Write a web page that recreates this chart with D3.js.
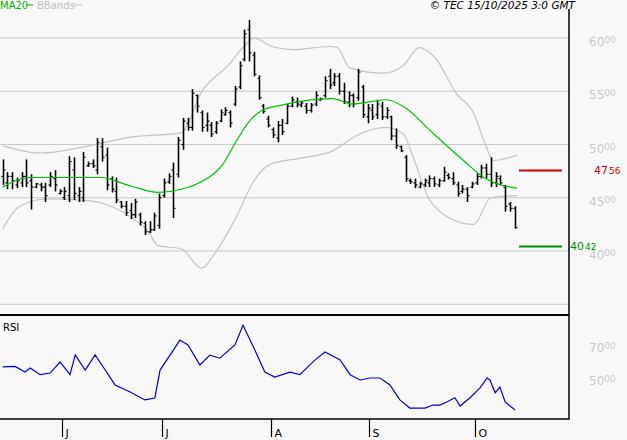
<!DOCTYPE html>
<html>
<head>
<meta charset="utf-8">
<script src="https://cdn.jsdelivr.net/npm/d3@7"></script>
<style>
  body { margin: 0; background: #f8f8f8; }
  svg { font-family: "DejaVu Sans", sans-serif; }
</style>
</head>
<body>
<svg id="chart"></svg>
<script>
// [high, low, open, close]
const bars = [
  [48.6,46.2,47.0,47.6],[47.4,45.8,46.4,47.0],[47.4,45.8,47.0,46.6],[46.9,45.9,46.2,46.6],[47.4,46.0,46.4,47.0],
  [48.6,46.0,47.0,46.4],[47.2,43.9,46.6,46.0],[46.4,45.9,46.0,46.3],[46.4,45.6,46.2,46.0],[46.4,44.6,46.0,45.2],
  [47.4,46.0,46.2,47.0],[47.6,45.6,46.8,46.2],[45.8,45.3,45.4,45.6],[46.0,44.8,45.0,45.6],[48.9,44.6,45.2,48.4],
  [48.8,44.8,47.6,45.4],[46.0,44.6,45.2,45.6],[49.3,44.6,45.0,48.8],[48.4,47.9,48.0,48.2],[48.6,47.8,48.2,48.0],
  [50.6,47.2,47.6,50.2],[50.6,48.4,49.8,48.8],[49.7,45.7,49.0,46.2],[47.0,45.5,46.8,45.8],[46.9,44.5,45.6,44.8],
  [44.7,44.0,44.6,44.2],[44.7,43.3,44.2,43.6],[44.5,43.0,43.8,43.4],[44.9,43.1,43.4,44.6],[43.6,42.4,43.4,42.7],
  [42.8,41.5,42.6,41.8],[42.8,41.7,41.8,42.0],[43.6,41.9,42.0,43.3],[45.4,42.1,42.4,45.0],[46.8,45.0,45.2,46.4],
  [47.3,46.3,46.5,47.0],[48.3,43.1,47.6,44.0],[50.7,46.9,47.2,50.4],[52.5,49.5,50.0,52.2],[52.5,51.3,52.0,51.6],
  [55.2,51.3,51.6,54.8],[54.7,53.0,54.6,53.6],[53.2,51.2,53.0,51.6],[53.0,51.2,51.8,52.2],[52.1,50.7,51.8,51.0],
  [52.2,51.0,51.2,52.0],[53.3,52.1,52.2,53.0],[53.5,52.7,52.8,53.2],[53.2,51.6,53.0,52.0],[55.5,53.6,53.8,55.2],
  [57.8,55.2,55.4,57.4],[60.8,57.8,58.0,60.4],[61.7,57.8,60.8,58.6],[58.7,56.4,58.4,56.6],[56.5,54.2,56.2,54.4],
  [53.8,52.9,53.6,53.1],[52.7,51.6,52.4,51.8],[51.6,50.6,51.4,50.9],[52.2,50.2,50.6,51.8],[52.4,50.9,51.8,51.2],
  [53.8,51.9,52.0,53.6],[54.5,53.5,53.6,54.2],[54.4,53.5,54.0,53.8],[54.1,53.5,53.7,53.9],[53.9,52.9,53.6,53.2],
  [53.9,53.0,53.2,53.7],[55.0,53.6,53.8,54.6],[54.4,54.1,54.2,54.3],[56.4,54.4,54.6,56.0],[57.1,55.2,56.4,55.6],
  [56.7,55.5,55.8,56.4],[56.7,54.7,56.4,55.0],[55.8,53.8,55.0,54.0],[55.0,53.5,54.0,54.6],[54.8,53.5,54.6,53.8],
  [57.1,54.1,54.4,56.8],[55.6,52.5,55.4,52.8],[53.8,52.0,52.6,53.4],[53.8,52.3,53.2,52.6],[54.2,52.4,52.8,53.8],
  [54.0,52.3,53.6,52.6],[53.5,52.4,52.6,53.2],[52.7,50.4,52.6,50.8],[51.5,49.6,50.8,49.9],[49.9,49.3,49.8,49.4],
  [49.0,46.5,48.8,46.8],[46.8,46.3,46.6,46.5],[46.8,45.9,46.4,46.2],[46.5,45.9,46.0,46.3],[46.8,46.0,46.2,46.6],
  [47.1,46.0,46.4,46.8],[47.0,46.0,46.8,46.3],[46.8,46.0,46.2,46.6],[47.9,46.5,46.6,47.4],[47.3,46.7,47.1,46.9],
  [47.4,46.2,46.8,46.4],[46.5,45.1,46.2,45.4],[46.2,45.4,45.6,45.8],[46.0,44.6,45.8,45.2],[46.5,45.9,46.0,46.3],
  [47.3,46.2,46.4,47.0],[48.1,46.8,47.0,47.8],[48.2,46.8,47.8,47.2],[48.8,46.0,47.2,46.4],[47.4,46.0,46.4,47.0],
  [47.1,46.2,46.8,46.4],[46.2,43.7,46.0,44.2],[44.6,43.7,44.4,44.0],[44.2,42.1,44.0,42.2]
];

const maIdx = [0,5.7,12,20.6,27,32.8,37.7,41.9,46.2,49.4,51.9,54.7,58.9,69.6,73.8,80.9,85.1,90.2,97.2,101.5,108.5];
const maVal = [46.0,46.9,46.9,46.9,46.1,45.5,45.8,46.5,48.0,50.4,52.1,53.2,53.7,54.3,53.8,54.2,53.4,51.3,48.5,46.9,45.9];

const upIdx = [0,7.9,18.5,27,37.7,41.9,47.7,51.1,53,56.8,61,68.9,70.6,73.2,80.2,84.5,87.9,91.3,95.7,99.4,101.5,103.6,108.5];
const upVal = [49.9,49.2,49.9,50.7,51.1,54.9,57.5,59.3,60.0,59.2,58.9,59.2,59.1,57.2,56.7,57.4,59.1,58.1,54.8,52.9,50.4,48.5,49.0];

const loIdx = [0,3.6,9.4,18.5,22.8,27.7,30.6,32.8,37.7,41.9,45.1,49.4,53,56.8,62.6,69.6,74.5,80.9,84.5,86.6,90.2,97.2,99.4,103,108.5];
const loVal = [42.1,44.2,44.9,44.7,44.2,43.0,41.9,40.5,40.2,38.4,40.0,43.3,46.6,48.2,48.7,49.4,50.8,51.6,51.0,48.8,44.7,42.6,42.5,45.0,45.2];

const rsiIdx = [0,2.6,4.7,5.8,7.9,10,12.1,14.2,15.3,17.4,19.5,21.6,23.7,26.9,30,32.1,33.2,35.3,37.4,39.1,41.6,43.7,45.8,49,50.7,53.2,55.3,57.4,60.6,62.7,65.9,68,71.2,73.3,75.4,77.5,79.6,81.7,83.8,85.9,89.1,90.8,92.2,93.7,95.4,96.5,98.6,100.7,102.2,102.8,103.9,104.9,106,108.1];
const rsiVal = [56.7,57,53.6,56,52,53,59.7,52,64,54.8,64,55,45.8,41.5,36.7,37.9,54.8,63.9,73,70,57.9,63.9,62,70,82,67,53.6,50.6,53.6,52,61,65.8,61,52,48.8,50,50,45.8,36.7,31.8,31.8,33.6,33.6,35.5,38,33,38,44,50,48.8,41,44.5,35.5,30.6];

const priceTicks = [60, 55, 50, 45, 40];
const priceGrid = [60, 55, 50, 45, 40, 35];
const rsiTicks = [70, 50];
const months = [{ label: "J", i: 12.5 }, { label: "J", i: 33.6 }, { label: "A", i: 56.6 }, { label: "S", i: 77.3 }, { label: "O", i: 99.6 }];
const resistance = 47.56;
const support = 40.42;

const width = 627, height = 440;
const plotRight = 569;

const svg = d3.select("#chart").attr("width", width).attr("height", height);

const x = d3.scaleLinear().domain([0, 108]).range([2.7, 514.6]);
const y = d3.scaleLinear().domain([40, 60]).range([251, 38]);
const yr = d3.scaleLinear().domain([50, 70]).range([378, 345]);

// grid
svg.append("g").selectAll("line").data(priceGrid).enter().append("line")
  .attr("x1", 0).attr("x2", plotRight)
  .attr("y1", d => y(d)).attr("y2", d => y(d))
  .attr("stroke", "#c8c8c8").attr("stroke-width", 1.2);

// price labels
const priceLabels = svg.append("g").selectAll("text").data(priceTicks).enter().append("text")
  .attr("x", 589).attr("y", d => y(d) + 8)
  .attr("fill", "#c8c8c8").style("font-size", "12px");
priceLabels.append("tspan").text(d => d);
priceLabels.append("tspan").attr("dy", -3).style("font-size", "9px").text("00");

const rsiLabels = svg.append("g").selectAll("text").data(rsiTicks).enter().append("text")
  .attr("x", 589).attr("y", d => yr(d) + 7)
  .attr("fill", "#c8c8c8").style("font-size", "12px");
rsiLabels.append("tspan").text(d => d);
rsiLabels.append("tspan").attr("dy", -3).style("font-size", "9px").text("00");

// bollinger bands
const bandLine = d3.line().x(d => x(d[0])).y(d => y(d[1])).curve(d3.curveMonotoneX);
svg.append("path").datum(upIdx.map((d, i) => [d, upVal[i]]))
  .attr("d", bandLine).attr("fill", "none").attr("stroke", "#c4c4c4").attr("stroke-width", 1.2);
svg.append("path").datum(loIdx.map((d, i) => [d, loVal[i]]))
  .attr("d", bandLine).attr("fill", "none").attr("stroke", "#c4c4c4").attr("stroke-width", 1.2);

// bars
const barG = svg.append("g").attr("stroke", "#000");
bars.forEach((b, i) => {
  const cx = Math.round(x(i)) + 0.5;
  barG.append("line").attr("x1", cx).attr("x2", cx).attr("y1", y(b[0])).attr("y2", y(b[1])).attr("stroke-width", 1.6);
  barG.append("line").attr("x1", cx - 2).attr("x2", cx).attr("y1", y(b[2])).attr("y2", y(b[2])).attr("stroke-width", 1.2);
  barG.append("line").attr("x1", cx).attr("x2", cx + 2).attr("y1", y(b[3])).attr("y2", y(b[3])).attr("stroke-width", 1.2);
});

// MA20
svg.append("path").datum(maIdx.map((d, i) => [d, maVal[i]]))
  .attr("d", bandLine).attr("fill", "none").attr("stroke", "#00c000").attr("stroke-width", 1.2);

// support / resistance
svg.append("line").attr("x1", 519).attr("x2", 562).attr("y1", y(resistance)).attr("y2", y(resistance))
  .attr("stroke", "#d00000").attr("stroke-width", 2);
svg.append("line").attr("x1", 519).attr("x2", 562).attr("y1", y(support)).attr("y2", y(support))
  .attr("stroke", "#009000").attr("stroke-width", 2);

const resText = svg.append("text").attr("x", 594).attr("y", y(resistance) + 4)
  .attr("fill", "#d00000").style("font-size", "11px");
resText.append("tspan").text(Math.floor(resistance));
resText.append("tspan").style("font-size", "9px").attr("dx", 1).text(String(Math.round(resistance * 100) % 100));
const supText = svg.append("text").attr("x", 570).attr("y", y(support) + 3)
  .attr("fill", "#009000").style("font-size", "11px");
supText.append("tspan").text(Math.floor(support));
supText.append("tspan").style("font-size", "9px").attr("dx", 1).text(String(Math.round(support * 100) % 100));

// RSI
svg.append("path").datum(rsiIdx.map((d, i) => [d, rsiVal[i]]))
  .attr("d", d3.line().x(d => x(d[0])).y(d => yr(d[1])))
  .attr("fill", "none").attr("stroke", "#0000e0").attr("stroke-width", 1.2);

// frame
svg.append("line").attr("x1", 0).attr("x2", plotRight).attr("y1", 315).attr("y2", 315)
  .attr("stroke", "#000").attr("stroke-width", 2);
svg.append("line").attr("x1", plotRight).attr("x2", plotRight).attr("y1", 9).attr("y2", 419.5)
  .attr("stroke", "#000").attr("stroke-width", 1.5);
svg.append("line").attr("x1", 0).attr("x2", plotRight).attr("y1", 419).attr("y2", 419)
  .attr("stroke", "#000").attr("stroke-width", 1.5);

// months
const mG = svg.append("g").selectAll("g").data(months).enter().append("g")
  .attr("transform", d => `translate(${Math.round(x(d.i)) + 0.5},0)`);
mG.append("line").attr("y1", 419).attr("y2", 437).attr("stroke", "#000").attr("stroke-width", 1.2);
mG.append("text").attr("x", 3).attr("y", 437).text(d => d.label).style("font-size", "11px").attr("fill", "#000");

// header
svg.append("text").attr("x", 0).attr("y", 9).attr("fill", "#00b000").style("font-size", "10px").text("MA20");
svg.append("line").attr("x1", 26).attr("x2", 33).attr("y1", 5).attr("y2", 5).attr("stroke", "#00b000");
svg.append("text").attr("x", 37).attr("y", 9).attr("fill", "#c0c0c0").style("font-size", "10px").text("BBands");
svg.append("line").attr("x1", 73).attr("x2", 82).attr("y1", 5).attr("y2", 5).attr("stroke", "#c0c0c0");
svg.append("text").attr("x", 575).attr("y", 9).attr("text-anchor", "end")
  .style("font-size", "10.5px").style("font-style", "italic").text("© TEC 15/10/2025 3:0 GMT");
svg.append("text").attr("x", 3).attr("y", 331).style("font-size", "10px").text("RSI");
</script>
</body>
</html>
